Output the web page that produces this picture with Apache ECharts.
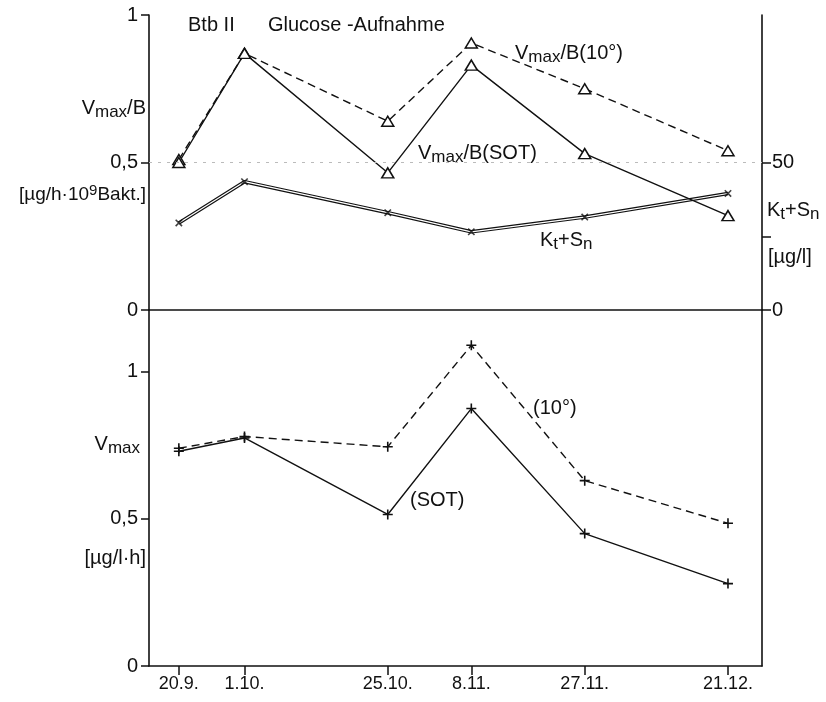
<!DOCTYPE html>
<html><head><meta charset="utf-8">
<script src="https://cdn.jsdelivr.net/npm/echarts@6/dist/echarts.min.js"></script>
<style>html,body{margin:0;padding:0;background:#fff}#c{width:826px;height:702px}</style>
</head><body><div id="c"></div>
<script>
// ---- data ----
const dateLabels = ['20.9.', '1.10.', '25.10.', '8.11.', '27.11.', '21.12.'];
const dayOffsets = [0, 11, 35, 49, 68, 92];          // days after 20.9.
const vmaxB10  = [0.51, 0.87, 0.64, 0.905, 0.75, 0.54];   // Vmax/B (10°)
const vmaxBSOT = [0.50, 0.87, 0.465, 0.83, 0.53, 0.32];   // Vmax/B (SOT)
const ktSn     = [29.5, 43.5, 33, 26.5, 31.5, 39.5];      // Kt+Sn [µg/l]
const vmax10   = [0.74, 0.78, 0.745, 1.09, 0.63, 0.485];  // Vmax (10°)
const vmaxSOT  = [0.73, 0.775, 0.515, 0.875, 0.45, 0.28]; // Vmax (SOT)
const leftTicks = [0, 0.5, 1];
const rightTicks = [0, 25, 50];
const rightLabels = [0, 50];

const F = 'Liberation Sans';
const pairs = arr => arr.map((v, i) => [dayOffsets[i], v]);
const fmtNum = v => String(v).replace('.', ',');
const BLACK = '#111';

const chart = echarts.init(document.getElementById('c'));
const plusPath = 'path://M5,0L5,10M0,5L10,5';
const triStyle = {color: '#fff', borderColor: BLACK, borderWidth: 1.5};

const axisBase = {
  axisLine: {show: true, onZero: false, lineStyle: {color: BLACK, width: 1.6}},
  splitLine: {show: false},
  axisLabel: {color: BLACK, fontFamily: F, fontSize: 20}
};

const rich = {
  s: {fontFamily: F, fontSize: 17, color: BLACK, padding: [9, 0, 0, 0]},
  u: {fontFamily: F, fontSize: 15, color: BLACK, padding: [0, 0, 9, 0]}
};
function txt(x, y, text, align, size) {
  return {type: 'text', x: x, y: y, silent: true,
    style: {text: text, fill: BLACK, font: (size || 20) + 'px "' + F + '"', rich: rich,
      align: align || 'left', verticalAlign: 'middle'}};
}

const option = {
  backgroundColor: '#fff',
  animation: false,
  grid: [
    {left: 149, right: 64, top: 15, height: 295},
    {left: 149, right: 64, top: 310, height: 356}
  ],
  xAxis: [
    Object.assign({}, axisBase, {gridIndex: 0, type: 'value', min: -5, max: 97.7, position: 'bottom',
      axisTick: {show: false}, axisLabel: {show: false}}),
    Object.assign({}, axisBase, {gridIndex: 1, type: 'value', min: -5, max: 97.7, position: 'bottom',
      axisTick: {show: true, customValues: dayOffsets, length: 9, lineStyle: {color: BLACK, width: 1.5}},
      axisLabel: {color: BLACK, fontFamily: F, fontSize: 18, margin: 9, customValues: dayOffsets,
        formatter: v => dateLabels[dayOffsets.indexOf(v)]}})
  ],
  yAxis: [
    Object.assign({}, axisBase, {gridIndex: 0, type: 'value', position: 'left', min: 0, max: 1, interval: 0.5,
      axisTick: {show: true, length: 8, lineStyle: {color: BLACK, width: 1.5}},
      axisLabel: {color: BLACK, fontFamily: F, fontSize: 20, margin: 11, formatter: fmtNum}}),
    Object.assign({}, axisBase, {gridIndex: 0, type: 'value', position: 'right', min: 0, max: 100,
      axisTick: {show: true, length: 9, customValues: rightTicks, lineStyle: {color: BLACK, width: 1.5}},
      axisLabel: {color: BLACK, fontFamily: F, fontSize: 20, margin: 10, customValues: rightLabels}}),
    Object.assign({}, axisBase, {gridIndex: 1, type: 'value', position: 'left', min: 0, max: 1.21,
      axisTick: {show: true, length: 8, customValues: leftTicks, lineStyle: {color: BLACK, width: 1.5}},
      axisLabel: {color: BLACK, fontFamily: F, fontSize: 20, margin: 11, customValues: leftTicks, formatter: fmtNum}}),
    Object.assign({}, axisBase, {gridIndex: 1, type: 'value', position: 'right', min: 0, max: 1.21,
      axisTick: {show: false}, axisLabel: {show: false}})
  ],
  series: [
    {type: 'line', xAxisIndex: 0, yAxisIndex: 0, data: pairs(vmaxB10),
      lineStyle: {color: BLACK, width: 1.4, type: [8, 5]},
      symbol: 'triangle', symbolSize: [12, 10], itemStyle: triStyle, z: 3,
      markLine: {silent: true, symbol: 'none', label: {show: false},
        lineStyle: {color: '#bbb', type: [3, 6], width: 1}, data: [{yAxis: 0.5}]}},
    {type: 'line', xAxisIndex: 0, yAxisIndex: 0, data: pairs(vmaxBSOT),
      lineStyle: {color: BLACK, width: 1.4},
      symbol: 'triangle', symbolSize: [12, 10], itemStyle: triStyle, z: 3},
    {type: 'line', xAxisIndex: 0, yAxisIndex: 1, data: pairs(ktSn),
      lineStyle: {color: BLACK, width: 3.6}, showSymbol: false, symbol: 'none', z: 2},
    {type: 'line', xAxisIndex: 0, yAxisIndex: 1, data: pairs(ktSn),
      lineStyle: {color: '#fff', width: 1.2}, showSymbol: false, symbol: 'none', z: 2},
    {type: 'scatter', xAxisIndex: 0, yAxisIndex: 1, data: pairs(ktSn),
      symbol: plusPath, symbolRotate: 45, symbolSize: 9,
      itemStyle: {color: 'none', borderColor: BLACK, borderWidth: 1.6}, z: 4},
    {type: 'line', xAxisIndex: 1, yAxisIndex: 2, data: pairs(vmax10),
      lineStyle: {color: BLACK, width: 1.4, type: [8, 5]},
      symbol: plusPath, symbolSize: 10, itemStyle: {color: 'none', borderColor: BLACK, borderWidth: 1.6}},
    {type: 'line', xAxisIndex: 1, yAxisIndex: 2, data: pairs(vmaxSOT),
      lineStyle: {color: BLACK, width: 1.4},
      symbol: plusPath, symbolSize: 10, itemStyle: {color: 'none', borderColor: BLACK, borderWidth: 1.6}}
  ],
  graphic: [
    txt(188, 25, 'Btb II'),
    txt(268, 25, 'Glucose -Aufnahme'),
    txt(515, 53, 'V{s|max}/B(10°)'),
    txt(418, 153, 'V{s|max}/B(SOT)'),
    txt(540, 240, 'K{s|t}+S{s|n}'),
    txt(767, 210, 'K{s|t}+S{s|n}'),
    txt(768, 257, '[µg/l]'),
    txt(146, 108, 'V{s|max}/B', 'right'),
    txt(146, 195, '[µg/h·10{u|9}Bakt.]', 'right', 19),
    txt(140, 444, 'V{s|max}', 'right'),
    txt(146, 558, '[µg/l·h]', 'right'),
    txt(533, 408, '(10°)'),
    txt(410, 500, '(SOT)')
  ]
};
chart.setOption(option);
</script>
</body></html>
